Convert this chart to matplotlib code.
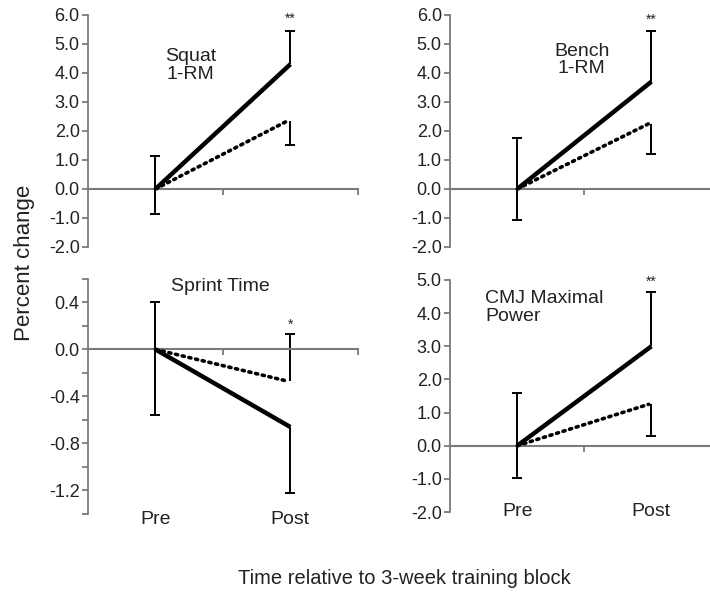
import matplotlib.pyplot as plt
import matplotlib.transforms as mtransforms

plt.rcParams['font.family'] = ['Liberation Sans', 'DejaVu Sans']

# x positions: Pre, Post
x_pre, x_post = 0.5, 1.5

# panel data: solid (treatment) and dotted (control) means at Post
titles = ['Squat\n1-RM', 'Bench\n1-RM', 'Sprint Time', 'CMJ Maximal\nPower']
solid_post = [4.3, 3.7, -0.66, 3.0]
dotted_post = [2.35, 2.25, -0.27, 1.25]
solid_err = [1.15, 1.75, -0.56, 1.65]    # one-sided bar at Post (solid)
dotted_err = [-0.85, -1.05, 0.40, -0.95]  # one-sided bar at Post (dotted)
pre_err_up = [1.15, 1.75, 0.40, 1.60]
pre_err_down = [0.88, 1.08, 0.56, 0.97]
stars = ['**', '**', '*', '**']
star_y = [5.85, 5.82, 0.21, 4.95]

ylims = [(-2, 6), (-2, 6), (-1.4, 0.6), (-2, 5)]
yticks = [list(range(-2, 7)), list(range(-2, 7)),
          [-1.4, -1.2, -1.0, -0.8, -0.6, -0.4, -0.2, 0.0, 0.2, 0.4, 0.6],
          list(range(-2, 6))]
sprint_labels = {-1.2: '-1.2', -0.8: '-0.8', -0.4: '-0.4', 0.0: '0.0', 0.4: '0.4'}

title_pos = [(0.76, 4.25, 'center'), (0.98, 4.45, 'center'),
             (0.98, 0.54, 'center'), (0.26, 4.16, 'left')]

# axes rectangles (figure fraction)
rects = [[0.124, 0.5828, 0.380, 0.392],
         [0.634, 0.5828, 0.378, 0.392],
         [0.124, 0.1318, 0.380, 0.397],
         [0.634, 0.1351, 0.378, 0.392]]
label_y = [None, None, 1 - 519 / 592, 1 - 512 / 592]

fig = plt.figure(figsize=(7.1, 5.92), dpi=100)
grey = '#7a7a7a'
txt = '#222222'


def one_sided(ax, x, y, err):
    # vertical bar from the mean with a cap only at the far end
    ax.vlines(x, y, y + err, color='black', lw=1.4, zorder=2)
    ax.plot([x], [y + err], marker='_', markersize=7, mew=1.4, color='black',
            zorder=2)


for i in range(4):
    ax = fig.add_axes(rects[i])
    ax.set_xlim(0, 2)
    ax.set_ylim(*ylims[i])
    for s in ['top', 'right']:
        ax.spines[s].set_visible(False)
    ax.spines['left'].set_color(grey)
    ax.spines['left'].set_linewidth(1.3)
    ax.spines['bottom'].set_position(('data', 0))
    ax.spines['bottom'].set_color(grey)
    ax.spines['bottom'].set_linewidth(1.5)
    ax.set_xticks([1, 2])
    ax.set_xticklabels([])
    ax.tick_params(axis='x', direction='out', length=4, width=1.3, color=grey)
    ax.set_yticks(yticks[i])
    if i == 2:
        ax.set_yticklabels([sprint_labels.get(round(v, 1), '') for v in yticks[i]])
    else:
        ax.set_yticklabels(['%.1f' % v for v in yticks[i]])
    ax.tick_params(axis='y', direction='out', length=4, width=1.3, color=grey,
                   labelsize=13, pad=2, labelcolor=txt)

    # lines
    ax.plot([x_pre, x_post], [0, solid_post[i]], color='black', lw=3.2,
            solid_capstyle='butt', zorder=3)
    ax.plot([x_pre, x_post - 0.02], [0, dotted_post[i]], color='black', lw=2.6,
            linestyle=(0, (0.6, 1.3)), dash_capstyle='round', zorder=3)

    # error bars
    ax.errorbar([x_pre], [0], yerr=[[pre_err_down[i]], [pre_err_up[i]]],
                fmt='none', ecolor='black', elinewidth=1.4, capsize=3.5,
                capthick=1.4, zorder=2)
    one_sided(ax, x_post, solid_post[i], solid_err[i])
    one_sided(ax, x_post, dotted_post[i], dotted_err[i])

    ax.text(x_post, star_y[i], stars[i], ha='center', va='center', fontsize=10,
            color=txt)

    tx, ty, ha = title_pos[i]
    ax.text(tx, ty, titles[i], ha=ha, va='center', fontsize=14,
            multialignment=ha, linespacing=1.05, color=txt)

    if label_y[i] is not None:
        trans = mtransforms.blended_transform_factory(ax.transData, fig.transFigure)
        ax.text(x_pre, label_y[i], 'Pre', transform=trans, ha='center',
                va='center', fontsize=14, color=txt)
        ax.text(x_post, label_y[i], 'Post', transform=trans, ha='center',
                va='center', fontsize=14, color=txt)

fig.text(25 / 710, 1 - 263 / 592, 'Percent change', rotation=90, ha='center',
         va='center', fontsize=16, color=txt)
fig.text(404 / 710, 1 - 578 / 592, 'Time relative to 3-week training block',
         ha='center', va='center', fontsize=14.5, color=txt)

fig.savefig('out.png', dpi=100)
